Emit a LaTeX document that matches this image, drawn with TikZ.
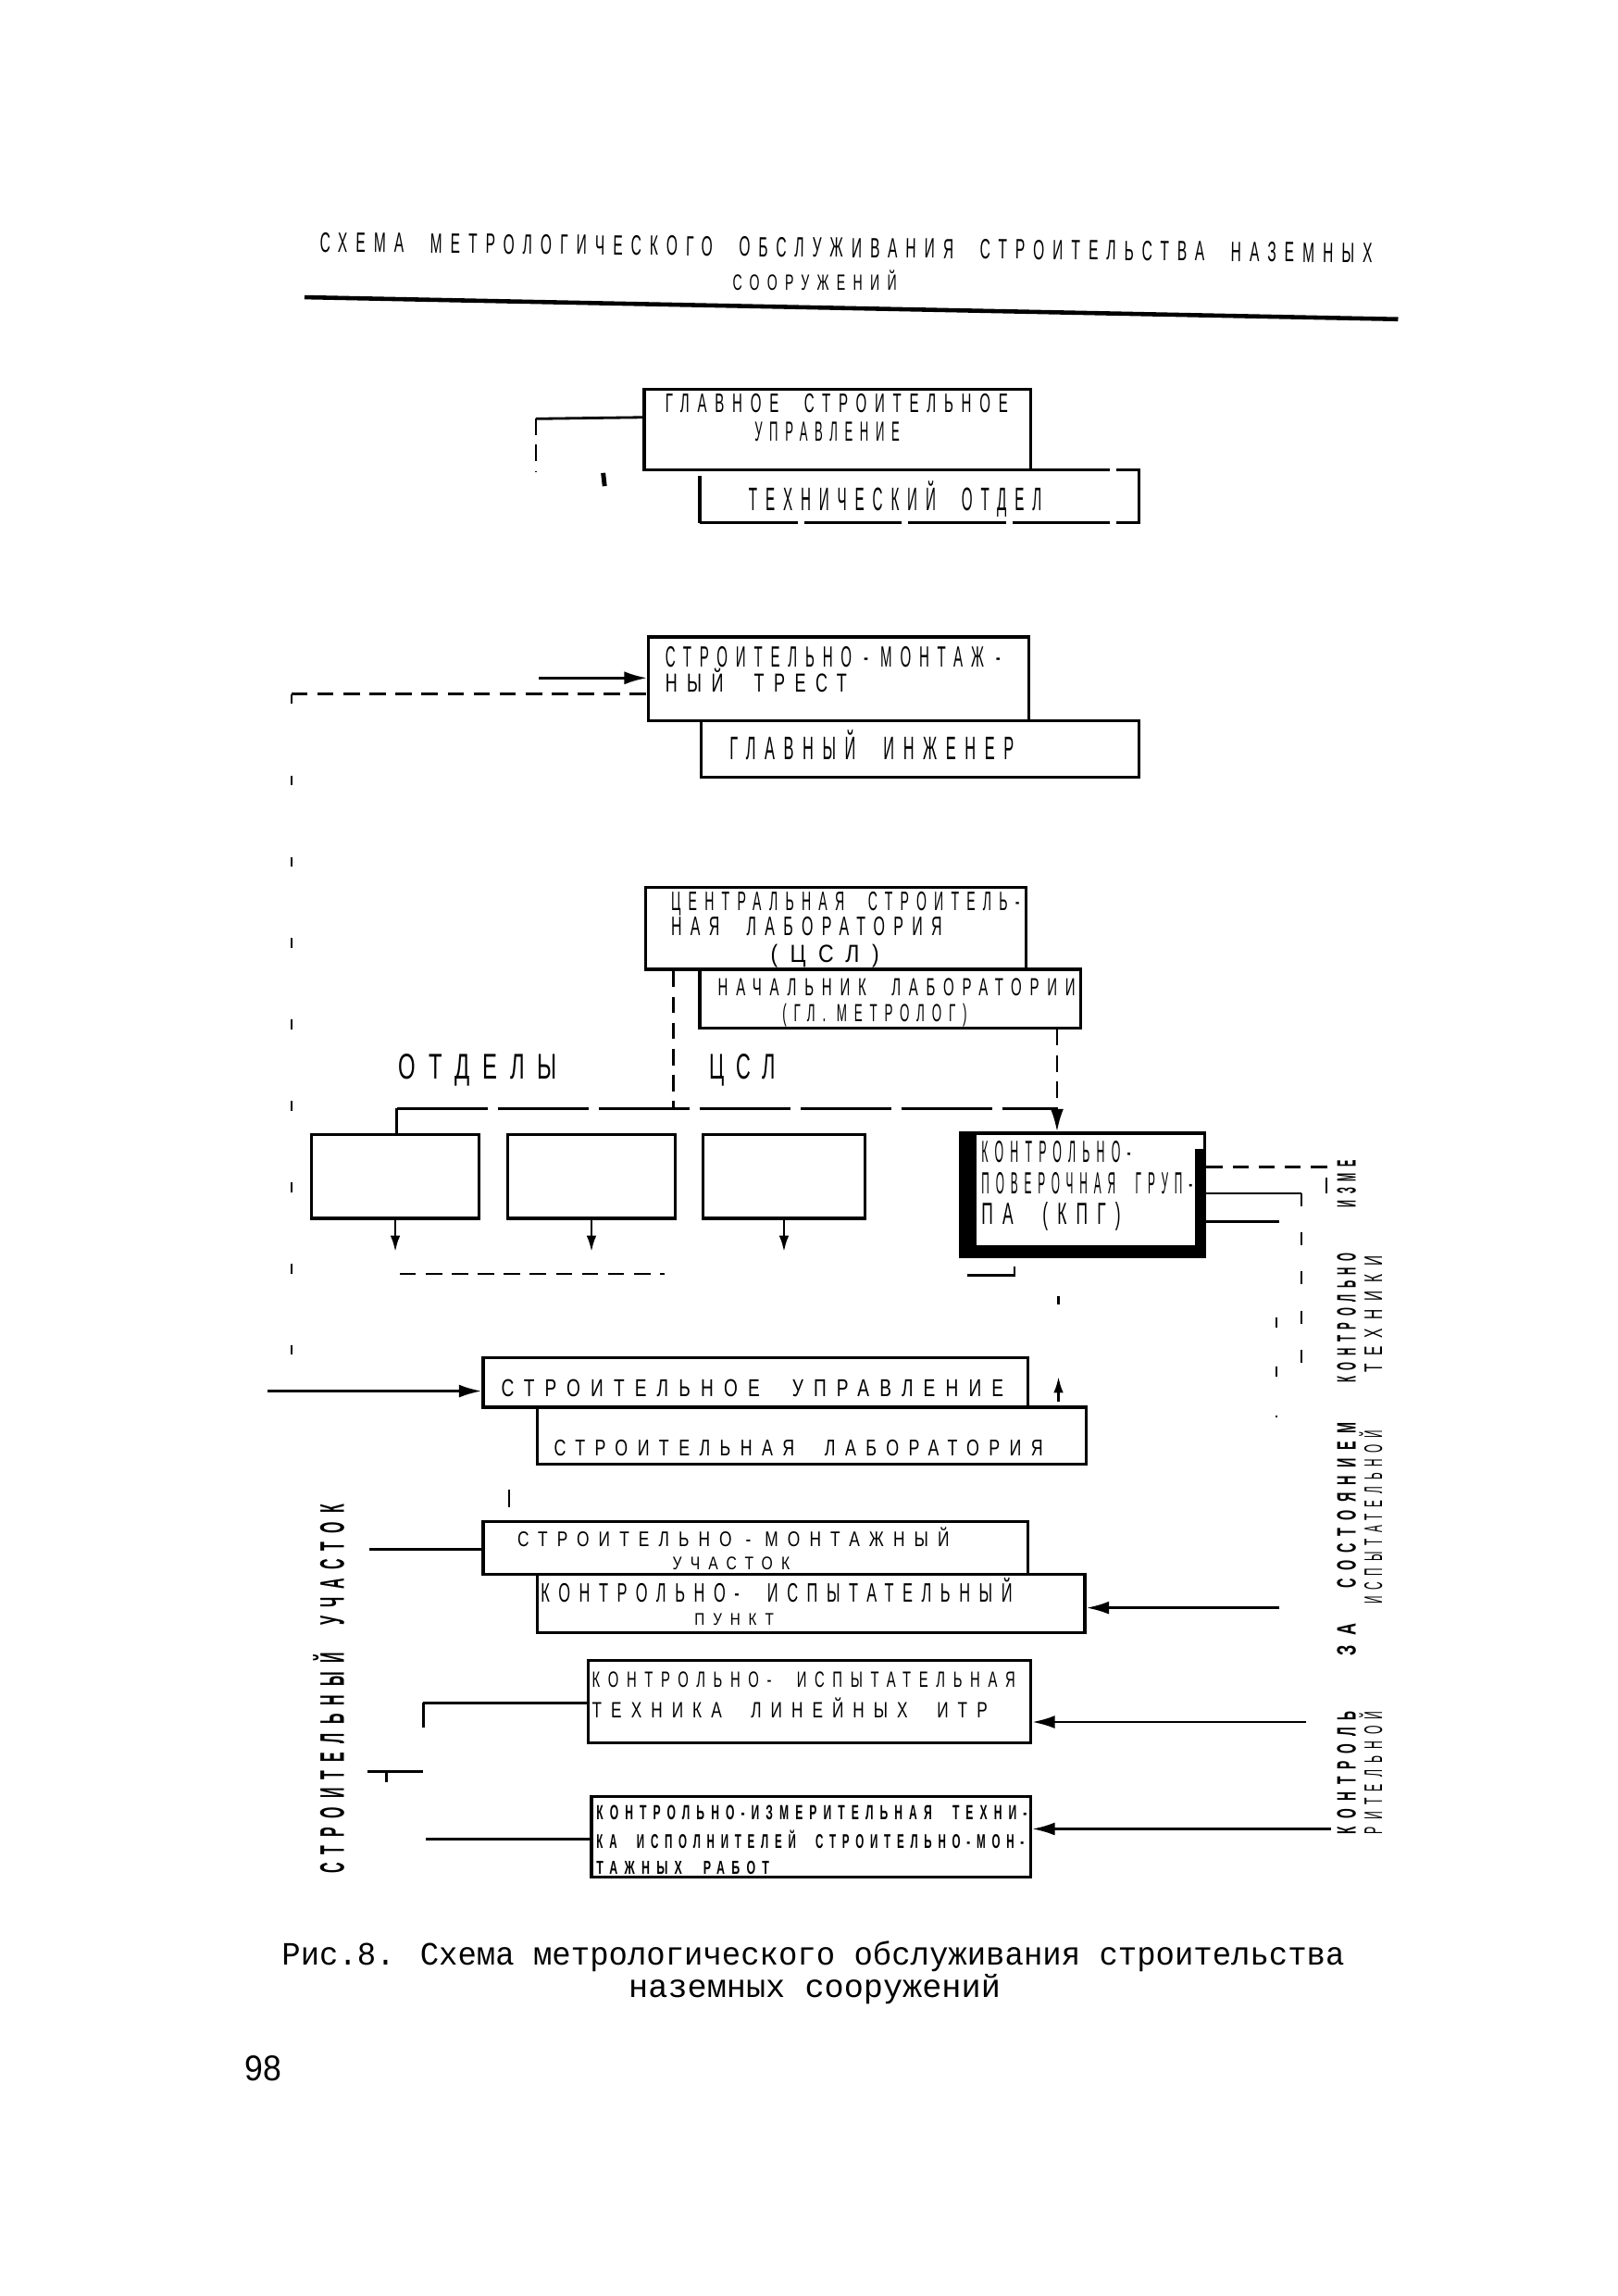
\documentclass[tikz,border=0pt]{standalone}
\usepackage{fontspec}
\usepackage{graphicx}
\setmainfont{Liberation Sans}
\newfontfamily\dg[FakeStretch=0.6,LetterSpace=35]{Liberation Sans}
\newfontfamily\capfont{Liberation Mono}
\usetikzlibrary{arrows.meta,fit,calc}
\newlength\fwtmp
\newcommand\fitw[2]{\settowidth{\fwtmp}{#2}\pgfmathsetmacro\fwr{((#1))/\fwtmp}\scalebox{\fwr}[1]{#2}}
\newcommand\tl[7][]{\node[txt,font={\fontsize{#6}{#6}\selectfont},#1] (#2) at (#3,#5) {\fitw{(#4-#3)*0.1581mm}{#7}};}
\newcommand\tv[7][]{\node[txt,rotate=90,font={\fontsize{#6}{#6}\selectfont},#1] (#2) at (#3,#4) {\fitw{(#4-#5)*0.1581mm}{#7}};}
\newcommand\ws{\hspace{1.1em}}
\begin{document}
\begin{tikzpicture}[x={(0.1581mm,0)},y={(0,-0.1581mm)},
  txt/.style={anchor=base west,inner sep=0pt},
  bx/.style={draw,line width=0.9pt,inner sep=0pt},
  dbx/.style={bx,dash pattern=on 30pt off 2pt},
  ln/.style={line width=0.8pt},
  dln/.style={line width=0.7pt,dash pattern=on 5pt off 3pt},
  sln/.style={line width=0.7pt,dash pattern=on 3pt off 22pt},
  arr/.style={ln,-{Latex[length=7pt,width=4pt]}},
  sarr/.style={ln,-{Latex[length=5pt,width=3pt]}}]
\fill[white] (0,0) rectangle (1105,1568);
\useasboundingbox (0,0) rectangle (1105,1568);

% title
\tl[rotate=-0.6]{ti1}{218}{937}{172}{8.6pt}{\dg СХЕМА\ws МЕТРОЛОГИЧЕСКОГО\ws ОБСЛУЖИВАНИЯ\ws СТРОИТЕЛЬСТВА\ws НАЗЕМНЫХ}
\tl{ti2}{500}{612}{198}{6.8pt}{\dg СООРУЖЕНИЙ}
\coordinate (rl) at (208,203);
\coordinate (rr) at (955,218);
\draw[line width=1.3pt] (rl) -- (rr);

% boxes
\node[bx,fit={(440,266) (704,321)}] (b1) {};
\node[dbx,fit={(478,321) (778,357)}] (b2) {};
\node[bx,fit={(443,435) (703,492)}] (b3) {};
\node[bx,fit={(479,492) (778,531)}] (b4) {};
\node[bx,fit={(441,606) (701,662)}] (b5) {};
\node[bx,fit={(478,662) (738,702)}] (b6) {};
\node[bx,fit={(213,775) (327,832)}] (d1) {};
\node[bx,fit={(347,775) (461,832)}] (d2) {};
\node[bx,fit={(480,775) (591,832)}] (d3) {};
\node[bx,line width=1pt,fit={(656,774) (823,858)}] (kpg) {};
\fill (kpg.north west) rectangle ($(kpg.south west)+(12,0)$);
\fill ($(kpg.south west)+(0,-9)$) rectangle (kpg.south east);
\fill ($(kpg.north east)+(-8,12)$) rectangle (kpg.south east);
\node[bx,fit={(330,927) (702,961)}] (b7) {};
\node[bx,fit={(367,961) (742,1000)}] (b8) {};
\node[bx,fit={(330,1039) (702,1075)}] (b9) {};
\node[bx,fit={(367,1075) (741,1115)}] (b10) {};
\node[bx,fit={(402,1134) (704,1190)}] (b11) {};
\node[bx,fit={(404,1227) (704,1282)}] (b12) {};

% box texts
\tl{t1a}{454}{688}{281.5}{8.2pt}{\dg ГЛАВНОЕ\ws СТРОИТЕЛЬНОЕ}
\tl{t1b}{515}{614}{301.5}{8.5pt}{\dg УПРАВЛЕНИЕ}
\tl{t2}{511}{711}{349}{10pt}{\dg ТЕХНИЧЕСКИЙ\ws ОТДЕЛ}
\tl{t3a}{454}{683}{455.5}{9pt}{\dg СТРОИТЕЛЬНО - МОНТАЖ -}
\tl{t3b}{454}{578}{472.5}{8pt}{\dg НЫЙ\ws ТРЕСТ}
\tl{t4}{498}{692}{518.6}{10pt}{\dg ГЛАВНЫЙ\ws ИНЖЕНЕР}
\tl{t5a}{458}{696}{622}{8.2pt}{\dg ЦЕНТРАЛЬНАЯ\ws СТРОИТЕЛЬ-}
\tl{t5b}{458}{643}{639}{8.2pt}{\dg НАЯ\ws ЛАБОРАТОРИЯ}
\tl{t5c}{526}{600}{657}{7.6pt}{\dg (ЦСЛ)}
\tl{t6a}{490}{734}{680}{7.6pt}{\dg НАЧАЛЬНИК\ws ЛАБОРАТОРИИ}
\tl{t6b}{534}{660}{698}{7.6pt}{\dg (ГЛ. МЕТРОЛОГ)}
\tl{otd}{272}{380}{737}{11pt}{\dg ОТДЕЛЫ}
\tl{csl}{484}{529}{737}{11pt}{\dg ЦСЛ}
\tl{k1}{670}{772}{794}{9.4pt}{\dg КОНТРОЛЬНО-}
\tl{k2}{670}{814}{815}{9.4pt}{\dg ПОВЕРОЧНАЯ\ws ГРУП-}
\tl{k3}{670}{765}{836}{9.4pt}{\dg ПА\ws (КПГ)}
\tl{t7}{342}{685}{954}{7.5pt}{\dg СТРОИТЕЛЬНОЕ\ws УПРАВЛЕНИЕ}
\tl{t8}{378}{712}{994}{7pt}{\dg СТРОИТЕЛЬНАЯ\ws ЛАБОРАТОРИЯ}
\tl{t9a}{353}{648}{1056}{6.5pt}{\dg СТРОИТЕЛЬНО - МОНТАЖНЫЙ}
\tl{t9b}{459}{539}{1072}{5.6pt}{\dg УЧАСТОК}
\tl{t10a}{369}{691}{1094}{8.2pt}{\dg КОНТРОЛЬНО-\ws ИСПЫТАТЕЛЬНЫЙ}
\tl{t10b}{474}{528}{1110}{5.2pt}{\dg ПУНКТ}
\tl{t11a}{404}{693}{1152}{6.8pt}{\dg КОНТРОЛЬНО-\ws ИСПЫТАТЕЛЬНАЯ}
\tl{t11b}{404}{674}{1173}{6.8pt}{\dg ТЕХНИКА\ws ЛИНЕЙНЫХ\ws ИТР}
\tl{t12a}{407}{701}{1243}{6.3pt}{\dg\bfseries КОНТРОЛЬНО-ИЗМЕРИТЕЛЬНАЯ\ws ТЕХНИ-}
\tl{t12b}{407}{699}{1262}{6.1pt}{\dg\bfseries КА\ws ИСПОЛНИТЕЛЕЙ\ws СТРОИТЕЛЬНО-МОН-}
\tl{t12c}{407}{525}{1280}{5.8pt}{\dg\bfseries ТАЖНЫХ\ws РАБОТ}

% vertical labels
\tv{lv}{235}{1280}{1028}{10.5pt}{\dg\bfseries СТРОИТЕЛЬНЫЙ\ws УЧАСТОК}
\tv{r1a}{926}{1253}{1169}{8.2pt}{\dg\bfseries КОНТРОЛЬ}
\tv{r1b}{926}{1131}{1109}{8.2pt}{\dg\bfseries ЗА}
\tv{r1c}{926}{1085}{972}{8.2pt}{\dg\bfseries СОСТОЯНИЕМ}
\tv{r1d}{926}{945}{856}{8.2pt}{\dg\bfseries КОНТРОЛЬНО}
\tv{r1e}{926}{825}{793}{8.2pt}{\dg\bfseries ИЗМЕ}
\tv{r2a}{944}{1253}{1169}{7.8pt}{\dg РИТЕЛЬНОЙ}
\tv{r2b}{944}{1096}{977}{7.8pt}{\dg ИСПЫТАТЕЛЬНОЙ}
\tv{r2c}{944}{938}{858}{7.8pt}{\dg ТЕХНИКИ}

% caption
\tl{cap1}{192}{918}{1342}{10pt}{\capfont Рис.8. Схема метрологического обслуживания строительства}
\tl{cap2}{429}{683}{1364}{10pt}{\capfont наземных сооружений}
\tl{pg}{167}{192}{1421}{11pt}{98}

% connectors
\coordinate (p1) at (366,286);
\draw[ln] ($(b1.north west)+(0,20)$) -- (p1);
\draw[dln] (p1) -- (p1 |- b1.south);
\coordinate (m1) at (412,323);
\draw[line width=1.4pt] (m1) -- ++(1,9);
\coordinate (a3) at (368,463);
\draw[arr] (a3) -- (a3 -| b3.west);
\coordinate (e3) at (199,474);
\draw[dln] (e3) -- (e3 -| b3.west);
\coordinate (a7) at (183,950);
\draw[sln] (e3) -- (e3 |- a7);
\draw[arr] (a7) -- (a7 -| b7.west);
% CSL to departments
\coordinate (hl) at (271,757);
\coordinate (hr) at (722,757);
\coordinate (hc) at (460,757);
\draw[dln] (hc |- b5.south) -- (hc);
\draw[ln,dash pattern=on 28pt off 3pt] (hl) -- (hr);
\draw[ln] (hl) -- (hl |- d1.north);
\draw[dln] (hr |- b6.south) -- (hr);
\draw[arr] (hr) -- (hr |- kpg.north);
\draw[sarr] (d1.south) -- ++(0,22);
\draw[sarr] (d2.south) -- ++(0,22);
\draw[sarr] (d3.south) -- ++(0,22);
\coordinate (f1) at (273,870);
\coordinate (f2) at (454,870);
\draw[dln] (f1) -- (f2);
% below KPG
\coordinate (g1) at (661,871);
\draw[ln] (g1) -- ++(32,0) -- ++(0,-6);
\coordinate (g2) at (723,885);
\draw[ln] (g2) -- ++(0,6);
\coordinate (g3) at (723,957);
\draw[sarr] (g3) -- ++(0,-17);
% KPG right side
\coordinate (r1) at (906,797);
\coordinate (r2) at (889,815);
\coordinate (r3) at (874,834);
\draw[dln] (kpg.east |- r1) -- (r1) -- ++(0,21);
\draw[ln] (kpg.east |- r2) -- (r2);
\draw[dln,dash pattern=on 4pt off 8pt] (r2) -- ++(0,133);
\draw[ln] (kpg.east |- r3) -- (r3);
\coordinate (r4) at (872,900);
\draw[sln,dash pattern=on 3pt off 12pt] (r4) -- ++(0,68);
% arrows from the right
\coordinate (q10) at (874,1098);
\coordinate (q11) at (892,1176);
\coordinate (q12) at (909,1249);
\draw[arr] (q10) -- (q10 -| b10.east);
\draw[arr] (q11) -- (q11 -| b11.east);
\draw[arr] (q12) -- (q12 -| b12.east);
% left side lines
\coordinate (l9) at (252,1058);
\draw[ln] (l9) -- (l9 -| b9.west);
\coordinate (l11) at (289,1163);
\draw[ln] (l11) -- (l11 -| b11.west);
\draw[ln] (l11) -- ++(0,17);
\coordinate (l13) at (251,1210);
\draw[ln] (l13) -- ++(38,0);
\coordinate (l14) at (264,1210);
\draw[ln] (l14) -- ++(0,7);
\coordinate (l12) at (291,1256);
\draw[ln] (l12) -- (l12 -| b12.west);
\coordinate (l15) at (348,1017);
\draw[line width=0.6pt] (l15) -- ++(0,12);
\end{tikzpicture}
\end{document}
